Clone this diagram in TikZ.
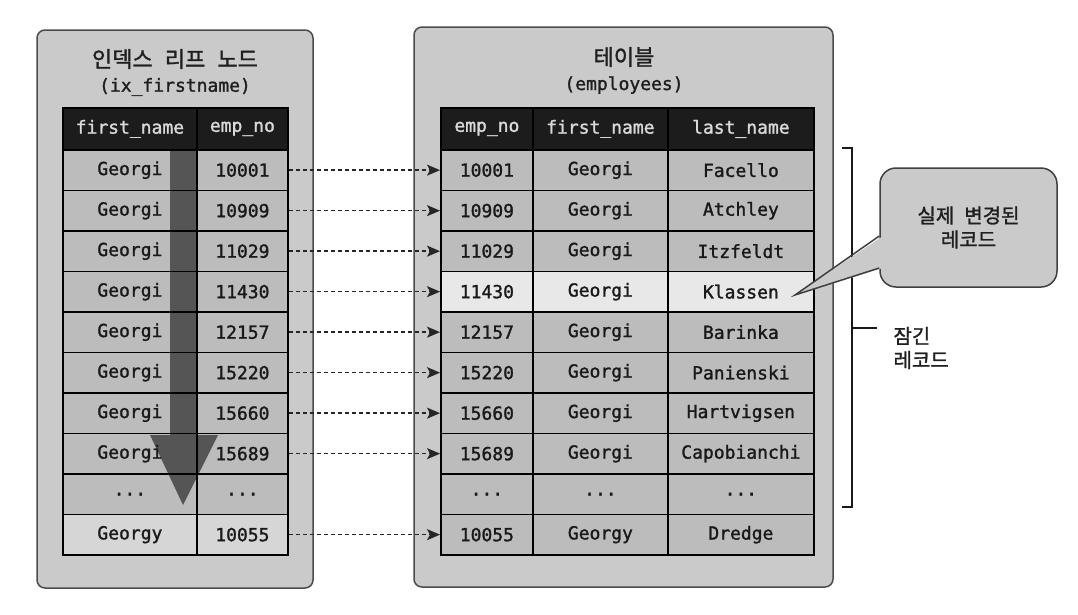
\documentclass[tikz,border=0pt]{standalone}
\usepackage{fontspec}
\setmonofont{DejaVu Sans Mono}
\newfontfamily\tbl[FakeBold=1.4]{DejaVu Sans Mono}
\newfontfamily\kr[FakeBold=1.3]{Noto Sans CJK KR}
\usetikzlibrary{arrows.meta}
\pgfdeclarelayer{bg}
\pgfdeclarelayer{mid}
\pgfsetlayers{bg,mid,main}
\definecolor{panelgray}{HTML}{CACACA}
\definecolor{cellgray}{HTML}{BCBCBC}
\definecolor{hilite}{HTML}{E8E8E8}
\definecolor{lastrow}{HTML}{D6D6D6}
\definecolor{hdrgray}{HTML}{1C1C1C}
\definecolor{bigarrow}{HTML}{4A4A4A}
\def\tdots{...}
\tikzset{
  panel/.style={draw=black!70, line width=1.5pt, fill=panelgray, rounded corners=8pt},
  cell/.style={draw=black, line width=1.8pt, inner sep=0pt, anchor=north west,
    minimum height=40.5pt, font=\fontsize{18}{18}\selectfont\tbl, text=black!90},
  hdr/.style={cell, minimum height=42pt, fill=hdrgray, text=white!85!black},
  ptr/.style={draw=black!85, line width=1.4pt, dash pattern=on 4pt off 3pt,
    -{Stealth[length=13pt,width=11pt,inset=3pt]}},
  krtext/.style={font=\fontsize{20}{24}\selectfont\kr, text=black!88},
  monotext/.style={font=\fontsize{18}{18}\selectfont\tbl, text=black!88},
  bracketline/.style={draw=black!90, line width=1.8pt},
  callbox/.style={draw=black!75, line width=1.5pt, fill=panelgray, rounded corners=16pt,
    minimum width=177pt, minimum height=119pt, align=center, inner sep=0pt},
}
\begin{document}
\begin{tikzpicture}[x=1pt,y=-1pt]
\useasboundingbox (0,0) rectangle (1078,614);

% panels
\begin{pgfonlayer}{bg}
\fill[white] (0,0) rectangle (1078,614);
\draw[panel] (37,30) rectangle (313,588);
\draw[panel] (414,27) rectangle (833,587);
\end{pgfonlayer}

% titles
\node[krtext, font=\fontsize{22}{22}\selectfont\kr] (lt1) at (175,59) {인덱스\hspace{0.55em}리프\hspace{0.55em}노드};
\node[monotext] (lt2) at (175,87) {(ix\_firstname)};
\node[krtext, font=\fontsize{22}{22}\selectfont\kr] (rt1) at (624,57) {테이블};
\node[monotext] (rt2) at (624,85) {(employees)};

% left table header
\node[hdr, minimum width=134pt] (Lha) at (62,107) {first\_name};
\node[hdr, minimum width=91pt] (Lhb) at (196,107) {emp\_no};
% right table header
\node[hdr, minimum width=92pt] (Rha) at (440,107) {emp\_no};
\node[hdr, minimum width=135pt] (Rhb) at (532,107) {first\_name};
\node[hdr, minimum width=146pt] (Rhc) at (667,107) {last\_name};

% rows
\foreach \i/\f/\n/\l in {1/Georgi/10001/Facello, 2/Georgi/10909/Atchley,
  3/Georgi/11029/Itzfeldt, 4/Georgi/11430/Klassen, 5/Georgi/12157/Barinka,
  6/Georgi/15220/Panienski, 7/Georgi/15660/Hartvigsen, 8/Georgi/15689/Capobianchi,
  9/\tdots/\tdots/\tdots, 10/Georgy/10055/Dredge} {
  \pgfmathsetmacro\yy{149+(\i-1)*40.5}
  \node[cell, minimum width=134pt] (La\i) at (62,\yy) {\f};
  \node[cell, minimum width=91pt] (Lb\i) at (196,\yy) {\n};
  \node[cell, minimum width=92pt] (Ra\i) at (440,\yy) {\n};
  \node[cell, minimum width=135pt] (Rb\i) at (532,\yy) {\f};
  \node[cell, minimum width=146pt] (Rc\i) at (667,\yy) {\l};
}

% row fills
\begin{pgfonlayer}{bg}
\foreach \i in {1,2,3,4,5,6,7,8,9} {
  \fill[cellgray] (La\i.north west) rectangle (Lb\i.south east);
}
\fill[lastrow] (La10.north west) rectangle (Lb10.south east);
\foreach \i in {1,2,3,5,6,7,8,9,10} {
  \fill[cellgray] (Ra\i.north west) rectangle (Rc\i.south east);
}
\fill[hilite] (Ra4.north west) rectangle (Rc4.south east);
\end{pgfonlayer}

% big scan arrow
\begin{pgfonlayer}{mid}
\fill[bigarrow, opacity=0.9] (170,149) -- (196,149) -- (196,435) -- (218,435)
  -- (183,505) -- (150,435) -- (170,435) -- cycle;
\end{pgfonlayer}

% pointers
\foreach \i in {1,2,3,4,5,6,7,8,10} {
  \draw[ptr] (Lb\i.east) -- (Ra\i.west);
}

% bracket
\coordinate (bt) at (842,148);
\coordinate (bb) at (842,507);
\coordinate (bm) at (852,328);
\draw[bracketline] (bt) -- ++(10,0) -- (852,507) -- (bb);
\draw[bracketline] (bm) -- ++(25,0);
\node[krtext, anchor=west, align=left] (lock) at (890,348) {잠긴\\레코드};

% callout
\node[callbox, font=\fontsize{20}{24}\selectfont\kr, text=black!88] (cb) at (968.5,227.5) {실제\hspace{0.5em}변경된\\레코드};
\coordinate (tip) at (795,295);
\fill[panelgray] (tip) -- (883,236) -- (883,268) -- cycle;
\draw[draw=black!75, line width=1.5pt, line join=miter] (cb.west |- 0,236) -- (tip) -- (cb.west |- 0,268);
\end{tikzpicture}
\end{document}
